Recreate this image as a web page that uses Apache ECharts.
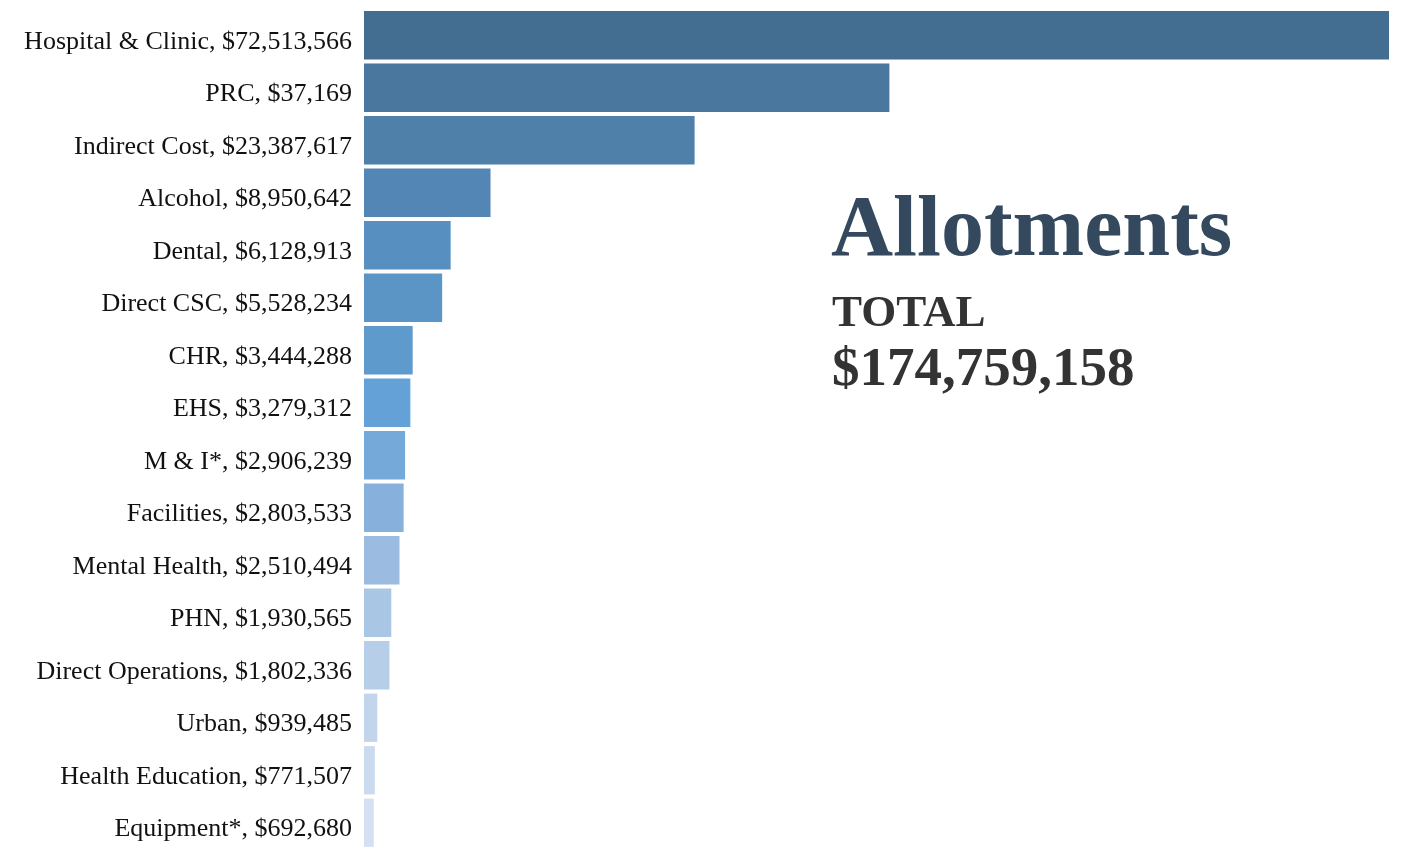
<!DOCTYPE html>
<html>
<head>
<meta charset="utf-8">
<script src="https://cdn.jsdelivr.net/npm/echarts@6/dist/echarts.min.js"></script>
<style>
html,body{margin:0;padding:0;background:#fff;}
#chart{width:1404px;height:856px;}
</style>
</head>
<body>
<div id="chart"></div>
<script>
const categories = ["Hospital & Clinic","PRC","Indirect Cost","Alcohol","Dental","Direct CSC","CHR","EHS","M & I*","Facilities","Mental Health","PHN","Direct Operations","Urban","Health Education","Equipment*"];
const values = [72513566,37169000,23387617,8950642,6128913,5528234,3444288,3279312,2906239,2803533,2510494,1930565,1802336,939485,771507,692680];
const amountLabels = ["$72,513,566","$37,169","$23,387,617","$8,950,642","$6,128,913","$5,528,234","$3,444,288","$3,279,312","$2,906,239","$2,803,533","$2,510,494","$1,930,565","$1,802,336","$939,485","$771,507","$692,680"];
const barColors = ["#436e91","#49779e","#4e80a9","#5386b4","#578fc0","#5b95c6","#5f9acc","#63a1d6","#74a9da","#87b1dc","#9bbce0","#aac6e5","#b7cee9","#c3d5eb","#cbdbef","#d5e1f2"];
const titleText = "Allotments";
const totalLabel = "TOTAL";
const totalValue = "$174,759,158";

const chart = echarts.init(document.getElementById('chart'));
const serif = '"Liberation Serif","DejaVu Serif",serif';
chart.setOption({
  animation: false,
  backgroundColor: '#ffffff',
  grid: {left: 364, right: 15, top: 9, bottom: 7, containLabel: false},
  xAxis: {type: 'value', min: 0, max: values[0], show: false},
  yAxis: {
    type: 'category', inverse: true, data: categories,
    axisLine: {show: false}, axisTick: {show: false},
    axisLabel: {
      margin: 12, color: '#111', fontFamily: serif, fontSize: 26,
      formatter: (v, i) => '{a|' + v + ', ' + amountLabels[i] + '}',
      rich: {a: {fontFamily: serif, fontSize: 26, color: '#111', padding: [13, 0, 0, 0]}}
    }
  },
  series: [{
    type: 'bar',
    barCategoryGap: '8%',
    data: values.map((v, i) => ({value: v, itemStyle: {color: barColors[i]}})),
    silent: true
  }],
  graphic: [
    {type: 'text', left: 831, top: 190, style: {text: titleText, fontFamily: serif, fontWeight: 'bold', fontSize: 86, fill: '#34495e'}},
    {type: 'text', left: 832, top: 292, style: {text: totalLabel, fontFamily: serif, fontWeight: 'bold', fontSize: 45, fill: '#333333'}},
    {type: 'text', left: 832, top: 343, style: {text: totalValue, fontFamily: serif, fontWeight: 'bold', fontSize: 55, fill: '#333333'}}
  ]
});
</script>
</body>
</html>
